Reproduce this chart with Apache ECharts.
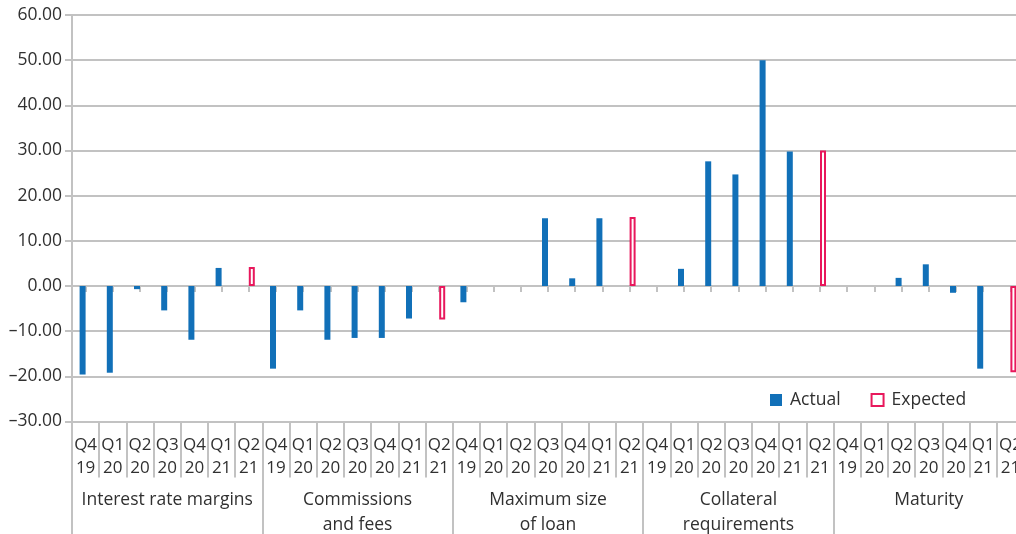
<!DOCTYPE html>
<html>
<head>
<meta charset="utf-8">
<script src="https://cdn.jsdelivr.net/npm/echarts@6/dist/echarts.min.js"></script>
<style>
  html, body { margin: 0; padding: 0; background: #fff; }
  #chart { width: 1016px; height: 534px; }
</style>
</head>
<body>
<div id="chart"></div>
<script>
// Loan terms: change by quarter (actual), with the outlook for Q2 21 (expected)
const groups = [
  'Interest rate margins',
  'Commissions\nand fees',
  'Maximum size\nof loan',
  'Collateral\nrequirements',
  'Maturity'
];
const quarters = ['Q4\n19', 'Q1\n20', 'Q2\n20', 'Q3\n20', 'Q4\n20', 'Q1\n21', 'Q2\n21'];

// One row per group, one value per quarter
const actualInterest    = [-19.6, -19.2, -0.7, -5.4, -11.9, 4.0, null];
const actualCommissions = [-18.3, -5.4, -11.9, -11.5, -11.5, -7.2, null];
const actualMaxSize     = [-3.6, 0, 0, 15.0, 1.7, 15.0, null];
const actualCollateral  = [0, 3.8, 27.6, 24.7, 50.0, 29.8, null];
const actualMaturity    = [0, 0, 1.8, 4.8, -1.5, -18.3, null];

// Expected values, given for the last quarter of each group
const expectedQ221 = [4.2, -7.4, 15.3, 30.0, -19.1];

const yTicks = { min: -30, max: 60, step: 10 };

const actualRows = [actualInterest, actualCommissions, actualMaxSize, actualCollateral, actualMaturity];
const quarterAxis = [];
const actualData = [];
const expectedData = [];
actualRows.forEach(function (row, g) {
  row.forEach(function (v, q) {
    quarterAxis.push(quarters[q]);
    actualData.push(v);
    expectedData.push(q === quarters.length - 1 ? expectedQ221[g] : null);
  });
});

const GRAY = '#c2c2c2';
const TEXT = '#303030';
const FONT = '"Open Sans", "Noto Sans", sans-serif';
const BLUE = '#1170b8';
const RED = '#e8185c';

const chart = echarts.init(document.getElementById('chart'), null, { renderer: 'canvas' });
chart.setOption({
  animation: false,
  backgroundColor: '#fff',
  textStyle: { fontFamily: FONT },
  grid: {
    left: 72, top: 15, width: 952, height: 406.5,
    containLabel: false, outerBoundsMode: 'none'
  },
  legend: {
    data: [
      { name: 'Actual', icon: 'rect' },
      { name: 'Expected', icon: 'rect' }
    ],
    left: 770, top: 391,
    padding: 0,
    itemWidth: 12, itemHeight: 12, itemGap: 30,
    textStyle: { fontFamily: FONT, fontSize: 17.5, color: TEXT, padding: [0, 0, 0, 3] }
  },
  xAxis: [
    {
      // zero line with short marks under each quarter
      type: 'category',
      data: quarterAxis,
      position: 'bottom',
      axisLine: { onZero: true, lineStyle: { color: GRAY, width: 2 } },
      axisTick: { show: true, alignWithLabel: true, interval: 0, length: 6, lineStyle: { color: GRAY, width: 2 } },
      axisLabel: { show: false },
      splitLine: { show: false }
    },
    {
      // quarter labels along the bottom
      type: 'category',
      data: quarterAxis,
      position: 'bottom',
      axisLine: { show: false, onZero: false },
      axisTick: { show: true, interval: 0, length: 56, lineStyle: { color: GRAY, width: 2 } },
      axisLabel: {
        interval: 0, margin: 12, fontFamily: FONT, fontSize: 17, color: TEXT, lineHeight: 23
      },
      splitLine: { show: false }
    },
    {
      // group labels
      type: 'category',
      data: groups,
      position: 'bottom',
      axisLine: { show: false, onZero: false },
      axisTick: { show: true, interval: 0, length: 130, lineStyle: { color: GRAY, width: 2 } },
      axisLabel: {
        interval: 0, margin: 66, fontFamily: FONT, fontSize: 17.5, color: TEXT, lineHeight: 25
      },
      splitLine: { show: false }
    }
  ],
  yAxis: {
    type: 'value',
    min: yTicks.min, max: yTicks.max, interval: yTicks.step,
    axisLine: { show: true, lineStyle: { color: GRAY, width: 2 } },
    axisTick: { show: true, length: 7, lineStyle: { color: GRAY, width: 2 } },
    splitLine: { show: true, lineStyle: { color: GRAY, width: 2 } },
    axisLabel: {
      margin: 10, fontFamily: FONT, fontSize: 17.5, color: TEXT,
      formatter: function (v) {
        const s = Math.abs(v).toFixed(2);
        return v < 0 ? '\u2013' + s : s;
      }
    }
  },
  series: [
    {
      name: 'Actual',
      type: 'bar',
      xAxisIndex: 0,
      data: actualData,
      barWidth: 6,
      barGap: '0%',
      itemStyle: { color: BLUE }
    },
    {
      name: 'Expected',
      type: 'bar',
      xAxisIndex: 0,
      data: expectedData,
      barWidth: 6,
      barGap: '0%',
      itemStyle: { color: '#fff', borderColor: RED, borderWidth: 2 }
    }
  ]
});
</script>
</body>
</html>
